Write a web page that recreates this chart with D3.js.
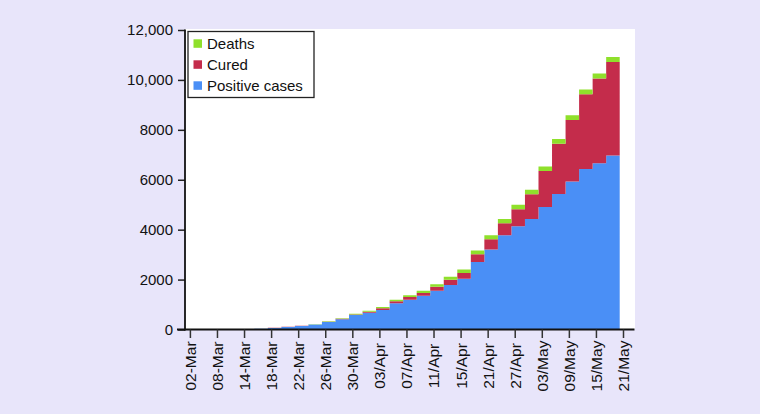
<!DOCTYPE html>
<html>
<head>
<meta charset="utf-8">
<script src="https://cdn.jsdelivr.net/npm/d3@7"></script>
<style>
  html, body { margin: 0; padding: 0; background: #e8e5fa; }
  svg { display: block; }
  text { font-family: "Liberation Sans", Arial, Helvetica, sans-serif; fill: #111; }
</style>
</head>
<body>
<svg id="chart" width="760" height="414"></svg>
<script>
// ---- data ----
const dates = ["02-Mar","05-Mar","08-Mar","11-Mar","14-Mar","16-Mar","18-Mar","20-Mar",
  "22-Mar","24-Mar","26-Mar","28-Mar","30-Mar","01/Apr","03/Apr","05/Apr",
  "07/Apr","09/Apr","11/Apr","13/Apr","15/Apr","18/Apr","21/Apr","24/Apr",
  "27/Apr","30/Apr","03/May","06/May","09/May","12/May","15/May","18/May"];
const tickLabels = ["02-Mar","08-Mar","14-Mar","18-Mar","22-Mar","26-Mar","30-Mar","03/Apr",
  "07/Apr","11/Apr","15/Apr","21/Apr","27/Apr","03/May","09/May","15/May","21/May"];
const positive = [2,3,3,5,10,30,65,105,145,200,305,410,580,672,780,1048,
  1190,1350,1550,1780,2030,2700,3210,3780,4140,4430,4910,5430,5930,6430,6660,6970];
const cured = [0,0,0,0,0,0,2,3,4,4,10,20,25,40,70,80,
  110,115,160,210,230,320,410,480,680,990,1440,2015,2460,3000,3400,3745];
const deaths = [0,0,0,0,0,1,2,3,4,5,12,25,30,40,50,60,
  70,90,105,120,140,150,160,165,175,180,185,185,190,190,195,200];
const yTicks = [0,2000,4000,6000,8000,10000,12000];
const seriesNames = ["Positive cases","Cured","Deaths"];
const colors = ["#4a8ff6","#c42c4b","#8fe02b"];

// ---- layout ----
const svg = d3.select("#chart");
const plot = {left: 185, right: 635, top: 29, bottom: 329.5};

svg.append("rect").attr("x", plot.left).attr("y", plot.top)
  .attr("width", plot.right - plot.left).attr("height", plot.bottom - plot.top)
  .attr("fill", "#ffffff");

const x = d3.scaleLinear().domain([0, dates.length]).range([186.6, 619.7]);
const y = d3.scaleLinear().domain([0, 12000]).range([plot.bottom, 30]);

const table = dates.map((d, i) => ({date: d, "Positive cases": positive[i], "Cured": cured[i], "Deaths": deaths[i]}));
const stack = d3.stack().keys(seriesNames)(table);

const area = d3.area()
  .x((d, i) => x(i))
  .y0(d => y(d[0]))
  .y1(d => y(d[1]))
  .curve(d3.curveStepAfter);

stack.forEach((s, k) => {
  const pts = s.map(d => [d[0], d[1]]);
  pts.push(pts[pts.length - 1]);
  svg.append("path").attr("d", area(pts)).attr("fill", colors[k]);
});

// ---- y axis ----
const yAxis = d3.axisLeft(y).tickValues(yTicks).tickSize(7).tickPadding(5)
  .tickFormat(d => d >= 10000 ? d3.format(",")(d) : String(d));
const gy = svg.append("g").attr("transform", `translate(${plot.left},0)`).call(yAxis);
gy.select(".domain").remove();
gy.selectAll(".tick line").attr("stroke", "#222").attr("stroke-width", 1.5);
gy.selectAll(".tick text").attr("font-size", 15).style("fill", "#111");
svg.append("line").attr("x1", plot.left).attr("x2", plot.left)
  .attr("y1", 29.5).attr("y2", plot.bottom + 1)
  .attr("stroke", "#111").attr("stroke-width", 1.8);

// ---- x axis ----
const tickOffset = 3.8;
const gx = svg.append("g");
gx.append("line").attr("x1", 177).attr("x2", 634.5)
  .attr("y1", plot.bottom).attr("y2", plot.bottom)
  .attr("stroke", "#111").attr("stroke-width", 1.8);
const labelCenterY = 366;
tickLabels.forEach((lab, j) => {
  const tx = x(j * 2) + tickOffset;
  gx.append("line").attr("x1", tx).attr("x2", tx)
    .attr("y1", plot.bottom).attr("y2", plot.bottom + 8.5)
    .attr("stroke", "#333").attr("stroke-width", 1.5);
  gx.append("text").attr("x", tx).attr("y", labelCenterY)
    .attr("transform", `rotate(-90,${tx},${labelCenterY})`)
    .attr("text-anchor", "middle").attr("dy", "0.35em")
    .attr("font-size", 15.5).text(lab);
});

// ---- legend ----
const lg = svg.append("g");
lg.append("rect").attr("x", 188).attr("y", 31.5).attr("width", 126).attr("height", 66)
  .attr("fill", "#fff").attr("stroke", "#222").attr("stroke-width", 1.3);
const legendOrder = [2, 1, 0];
legendOrder.forEach((k, r) => {
  const cy = 43.8 + r * 21;
  lg.append("rect").attr("x", 193.5).attr("y", cy - 4.5).attr("width", 8.5).attr("height", 8.5)
    .attr("fill", colors[k]);
  lg.append("text").attr("x", 207).attr("y", cy).attr("dy", "0.35em")
    .attr("font-size", 15).text(seriesNames[k]);
});
</script>
</body>
</html>
